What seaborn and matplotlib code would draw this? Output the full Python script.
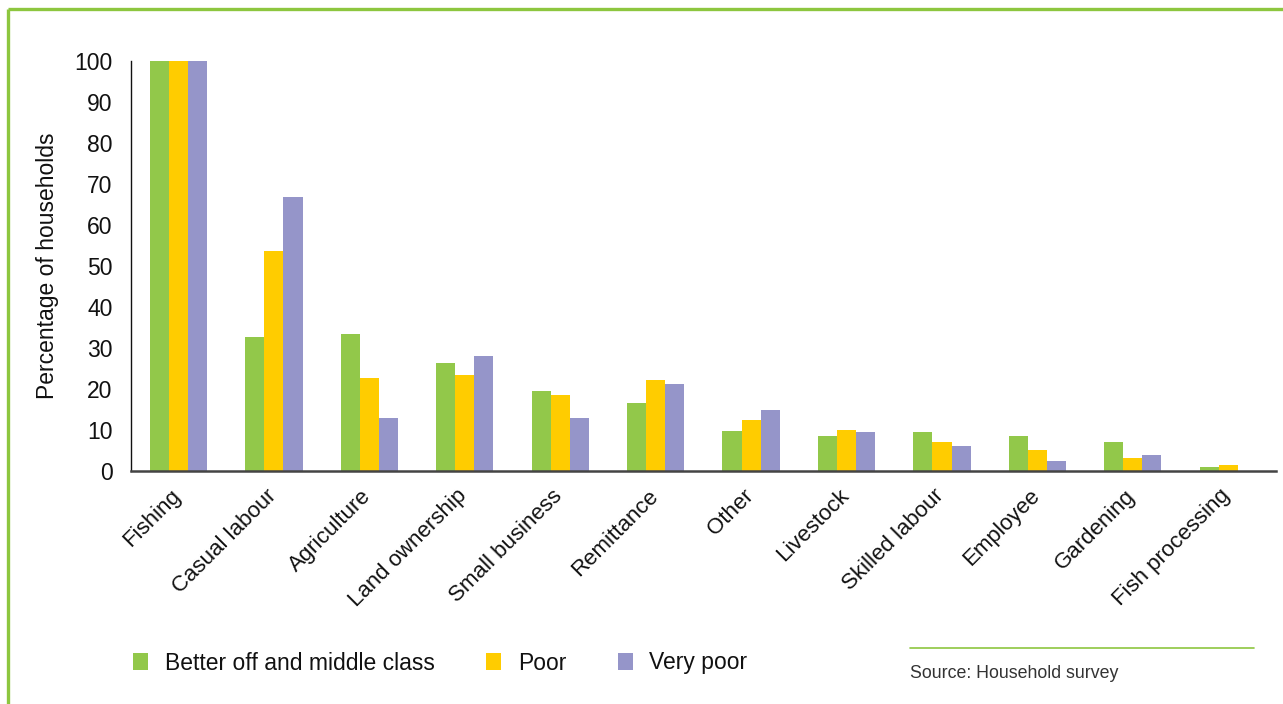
import matplotlib
matplotlib.use("Agg")
import matplotlib.pyplot as plt
from matplotlib.lines import Line2D
from matplotlib.transforms import ScaledTranslation
import pandas as pd
import seaborn as sns

# Household livelihood sources by wealth group (% of households)
categories = ["Fishing", "Casual labour", "Agriculture", "Land ownership",
              "Small business", "Remittance", "Other", "Livestock",
              "Skilled labour", "Employee", "Gardening", "Fish processing"]
better_off = [100, 32.6, 33.4, 26.3, 19.5, 16.5, 9.7, 8.5, 9.4, 8.5, 7.0, 0.9]
poor = [100, 53.6, 22.6, 23.4, 18.5, 22.1, 12.4, 9.9, 7.0, 5.0, 3.1, 1.4]
very_poor = [100, 66.8, 12.9, 28.0, 12.9, 21.2, 14.8, 9.4, 6.0, 2.4, 3.8, 0.0]
groups = ["Better off and middle class", "Poor", "Very poor"]
yticks = [0, 10, 20, 30, 40, 50, 60, 70, 80, 90, 100]

colors = ["#92C84A", "#FFCC00", "#9595C9"]
frame_green = "#8DC63F"

df = pd.DataFrame({
    "category": categories * 3,
    "group": [groups[0]] * len(categories) + [groups[1]] * len(categories)
             + [groups[2]] * len(categories),
    "value": better_off + poor + very_poor,
})

sns.set_theme(style="white")
plt.rcParams["font.family"] = ["Liberation Sans", "DejaVu Sans"]

W, H = 1283, 704
fig = plt.figure(figsize=(W / 100, H / 100), dpi=100)
ax = fig.add_axes([130.8 / W, 1 - 470.5 / H, (1276 - 130.8) / W, (470.5 - 61) / H])

sns.barplot(data=df, x="category", y="value", hue="group", order=categories,
            hue_order=groups, palette=colors, width=0.6, saturation=1,
            gap=0, linewidth=0, ax=ax)

ax.set_xlim(-0.5, len(categories) - 0.5)
ax.set_ylim(0, 100)
ax.set_yticks(yticks)
ax.set_yticklabels([str(v) for v in yticks])
ax.set_xlabel("")
ax.set_ylabel("Percentage of households", fontsize=16.5, color="#111111")
ax.yaxis.set_label_coords(-0.0625, 0.5)

for side in ["top", "right"]:
    ax.spines[side].set_visible(False)
ax.spines["left"].set_color("#111111")
ax.spines["left"].set_linewidth(1.0)
ax.spines["bottom"].set_color("#444444")
ax.spines["bottom"].set_linewidth(1.8)

ax.tick_params(axis="y", length=0, pad=13, labelsize=16.5, labelcolor="#111111")
ax.tick_params(axis="x", length=0, pad=16, labelsize=16, labelcolor="#111111")
offset = ScaledTranslation(-1 / 100, 0, fig.dpi_scale_trans)
for lab in ax.get_xticklabels():
    lab.set_rotation(45)
    lab.set_ha("right")
    lab.set_va("center")
    lab.set_rotation_mode("anchor")
    lab.set_transform(lab.get_transform() + offset)

# Legend along the bottom
handles, labels = ax.get_legend_handles_labels()
ax.get_legend().remove()
fig.legend(handles, labels, ncol=3, loc="center left",
           bbox_to_anchor=(133 / W, 1 - 663 / H), frameon=False,
           fontsize=16.5, handlelength=0.66, handleheight=0.72,
           handletextpad=0.72, columnspacing=2.25, borderpad=0,
           borderaxespad=0, labelcolor="#111111")

# Source note with rule above
fig.add_artist(Line2D([910 / W, 1254 / W], [1 - 648 / H, 1 - 648 / H],
                      color=frame_green, lw=1.2, transform=fig.transFigure))
fig.text(910 / W, 1 - 673 / H, "Source: Household survey", fontsize=12.8,
         color="#333333", ha="left", va="center")

# Green frame along the top and left edges
fig.add_artist(Line2D([7.5 / W, 1.0], [1 - 8.5 / H, 1 - 8.5 / H],
                      color=frame_green, lw=2.4, transform=fig.transFigure,
                      solid_capstyle="butt"))
fig.add_artist(Line2D([7.5 / W, 7.5 / W], [0, 1 - 8.5 / H],
                      color=frame_green, lw=2.4, transform=fig.transFigure,
                      solid_capstyle="butt"))

fig.savefig("out.png", dpi=100, facecolor="white")
